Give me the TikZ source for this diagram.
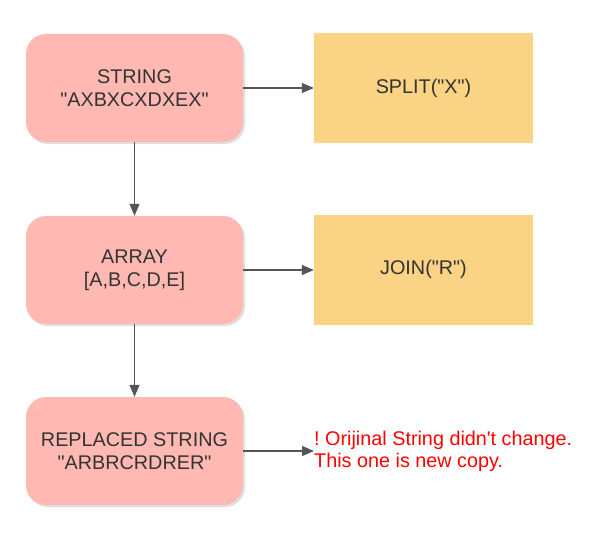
\documentclass[tikz,border=0pt]{standalone}
\usepackage{fontspec}
\setmainfont{Liberation Sans}[Ligatures=TeXReset]
\frenchspacing
\usetikzlibrary{arrows.meta,shadows}
\definecolor{pinkbox}{HTML}{FFB8B2}
\definecolor{yellowbox}{HTML}{FAD385}
\definecolor{txt}{HTML}{333333}
\definecolor{edge}{HTML}{555555}
\tikzset{
  pinkbox/.style={draw=none, fill=pinkbox, rounded corners=20pt, minimum width=217pt, minimum height=108pt,
    drop shadow={shadow xshift=2pt, shadow yshift=-2pt, opacity=0.25, fill=gray}, align=center,
    text=txt, font=\fontsize{19.8}{23}\selectfont},
  yellowbox/.style={draw=none, fill=yellowbox, minimum width=219pt, minimum height=110pt, align=center,
    text=txt, font=\fontsize{19.8}{23}\selectfont},
  conn/.style={draw=edge, line width=1.2pt, -{Triangle[length=12pt,width=10pt]}},
}
\begin{document}
\begin{tikzpicture}[x=1pt,y=-1pt]
\useasboundingbox (0,0) rectangle (596,543);
\node[pinkbox] (s) at (134.5,88) {STRING\\"AXBXCXDXEX"};
\node[pinkbox] (a) at (134.5,270) {ARRAY\\{}[A,B,C,D,E]};
\node[pinkbox] (r) at (134.5,451) {REPLACED STRING\\"ARBRCRDRER"};
\node[yellowbox] (sp) at (423.5,88) {SPLIT("X")};
\node[yellowbox] (jn) at (423.5,269.5) {JOIN("R")};
\coordinate (nt) at (314,451);
\node[anchor=west, text=red, align=left, inner sep=0pt, font=\fontsize{19.8}{22}\selectfont] (note) at (314,451) {! Orijinal String didn't change.\\This one is new copy.};
\draw[conn] (s.east) -- (sp.west);
\draw[conn] (a.east) -- (jn.west |- a.east);
\draw[conn] (r.east) -- (nt);
\draw[conn] (s.south) -- (a.north);
\draw[conn] (a.south) -- (r.north);
\end{tikzpicture}
\end{document}
